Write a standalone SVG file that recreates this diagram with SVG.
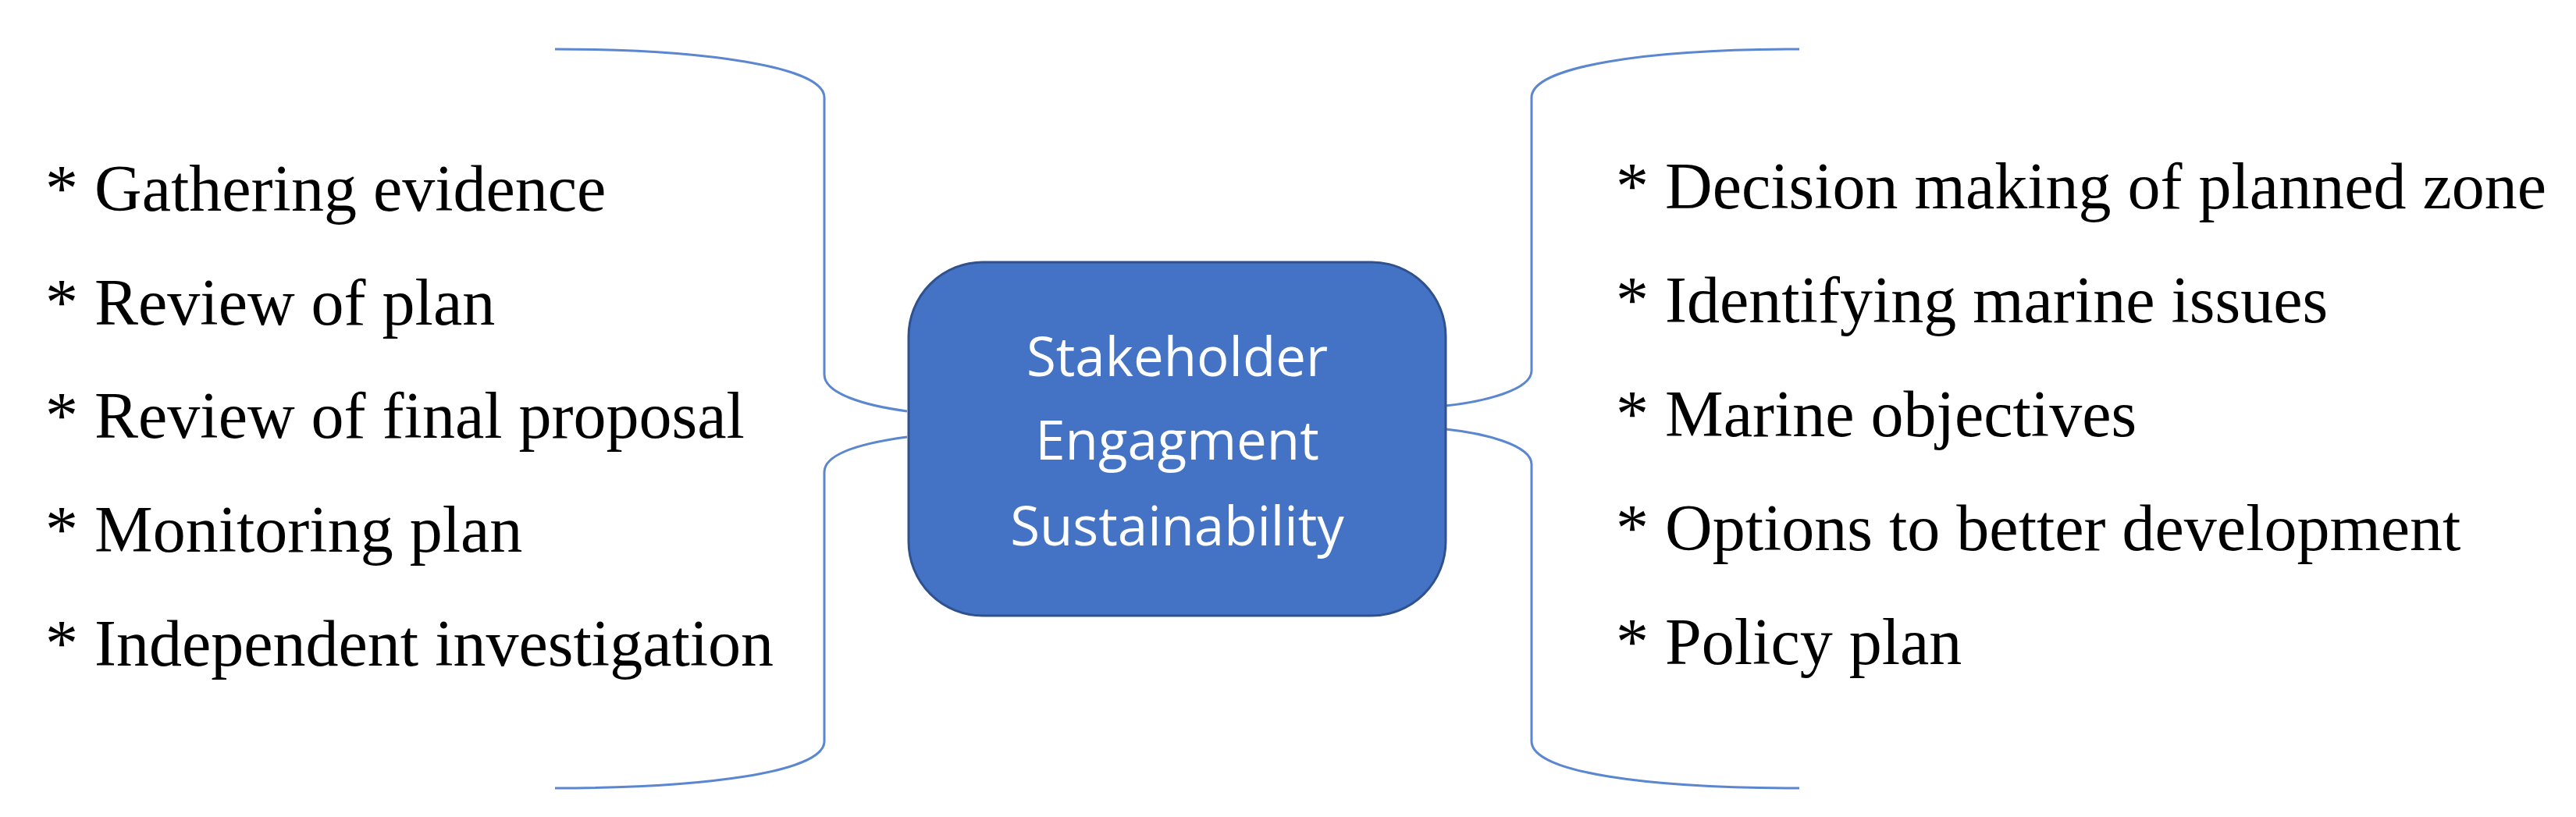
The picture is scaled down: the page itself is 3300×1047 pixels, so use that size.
<svg xmlns="http://www.w3.org/2000/svg" width="3300" height="1047" viewBox="0 0 3300 1047">
<style>
.c{fill:none;stroke:#5B86D0;stroke-width:3}
.t{font-family:"Liberation Serif",serif;font-size:84px;fill:#000}
.w{font-family:"Open Sans",sans-serif;font-size:69px;fill:#fff;text-anchor:middle}
</style>
<rect width="3300" height="1047" fill="#fff"/>
<g id="connectors">
<path class="c" d="M711,63 C900,63 1056,85 1056,125 L1056,480 C1056,505 1110,520 1162,527"/>
<path class="c" d="M1162,560 C1110,567 1056,580 1056,605 L1056,950 C1056,990 900,1010 711,1010"/>
<path class="c" d="M2305,63 C2110,63 1962,85 1962,125 L1962,475 C1962,500 1900,515 1852,520"/>
<path class="c" d="M1852,550 C1900,555 1962,570 1962,595 L1962,950 C1962,990 2110,1010 2305,1010"/>
</g>
<g id="center">
<rect x="1164" y="336" width="688" height="453" rx="95" fill="#4472C4" stroke="#2F528F" stroke-width="3"/>
<text class="w" x="1508" y="482">Stakeholder</text>
<text class="w" x="1508" y="589">Engagment</text>
<text class="w" x="1508" y="699">Sustainability</text>
</g>
<g id="left">
<text class="t" x="58" y="270">* Gathering evidence</text>
<text class="t" x="58" y="416">* Review of plan</text>
<text class="t" x="58" y="561">* Review of final proposal</text>
<text class="t" x="58" y="707">* Monitoring plan</text>
<text class="t" x="58" y="853">* Independent investigation</text>
</g>
<g id="right">
<text class="t" x="2070" y="267">* Decision making of planned zone</text>
<text class="t" x="2070" y="413">* Identifying marine issues</text>
<text class="t" x="2070" y="559">* Marine objectives</text>
<text class="t" x="2070" y="705">* Options to better development</text>
<text class="t" x="2070" y="851">* Policy plan</text>
</g>
</svg>
